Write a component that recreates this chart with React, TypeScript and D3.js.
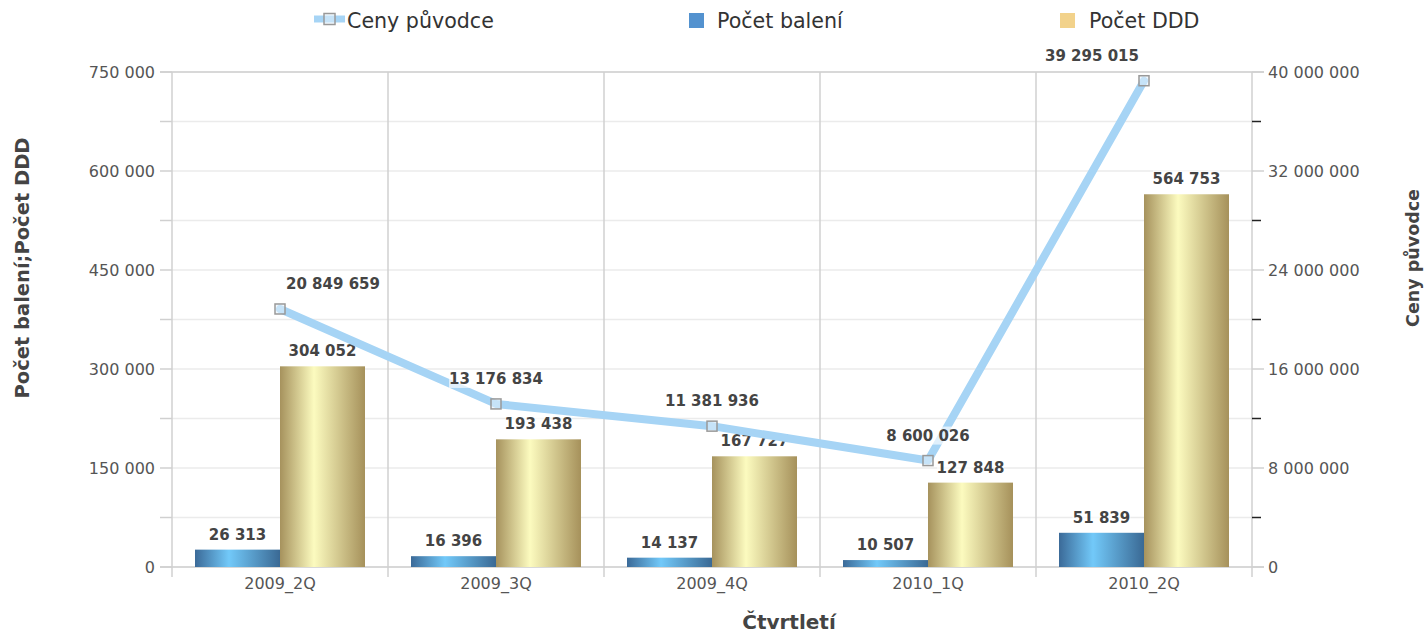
import React from "react";
import * as d3 from "d3";

const categories = ["2009_2Q", "2009_3Q", "2009_4Q", "2010_1Q", "2010_2Q"];
const pocetBaleni = [26313, 16396, 14137, 10507, 51839];
const pocetDDD = [304052, 193438, 167727, 127848, 564753];
const cenyPuvodce = [20849659, 13176834, 11381936, 8600026, 39295015];
const lineLabelShift = [53, 0, 0, 0, -52];
const leftTicks = d3.range(0, 750001, 75000);
const rightTicks = d3.range(0, 40000001, 4000000);

const W = 1428, H = 636;
const L = 172, R = 1252, T = 72, B = 567;
const FONT = "'DejaVu Sans', Verdana, sans-serif";

const loc = d3.formatLocale({ thousands: "\u00a0", grouping: [3], decimal: ",", currency: ["", ""] });
const fmt = loc.format(",d");

export default function App() {
  const x = d3.scaleBand<string>().domain(categories).range([L, R]);
  const inner = d3.scaleBand<string>().domain(["b", "d"]).range([23, 193]);
  const yL = d3.scaleLinear().domain([0, 750000]).range([B, T]);
  const yR = d3.scaleLinear().domain([0, 40000000]).range([B, T]);
  const bw = inner.bandwidth();

  const lineGen = d3
    .line<number>()
    .x((_, i) => x(categories[i])! + x.bandwidth() / 2)
    .y((v) => yR(v));

  const labelBox = (cx: number, by: number, text: string, key: string, size = 15) => {
    const w = text.length * size * 0.6;
    return (
      <g key={key}>
        <rect x={cx - w / 2 - 2} y={by - size + 1} width={w + 4} height={size + 3} fill="#fff" opacity={0.65} />
        <text x={cx} y={by} textAnchor="middle" fontFamily={FONT} fontWeight="bold" fontSize={size} fill="#444">
          {text}
        </text>
      </g>
    );
  };

  return (
    <svg width={W} height={H} style={{ position: "absolute", left: 0, top: 0, background: "#fff" }}>
      <defs>
        <linearGradient id="gBlue" x1="0" x2="1" y1="0" y2="0">
          <stop offset="0" stopColor="#3b6a98" />
          <stop offset="0.4" stopColor="#72c9f9" />
          <stop offset="1" stopColor="#3a6994" />
        </linearGradient>
        <linearGradient id="gGold" x1="0" x2="1" y1="0" y2="0">
          <stop offset="0" stopColor="#a6925d" />
          <stop offset="0.4" stopColor="#fcfbbf" />
          <stop offset="1" stopColor="#a6915b" />
        </linearGradient>
      </defs>

      {/* horizontal gridlines */}
      {leftTicks.map((t) => (
        <line key={"hg" + t} x1={L} x2={R} y1={yL(t)} y2={yL(t)} stroke="#ebebeb" strokeWidth={1.5} />
      ))}
      {/* vertical gridlines */}
      {d3.range(categories.length + 1).map((i) => {
        const xx = i < categories.length ? x(categories[i])! : R;
        return <line key={"vg" + i} x1={xx} x2={xx} y1={T} y2={B + 10} stroke="#d0d0d0" strokeWidth={1.5} />;
      })}
      {/* left axis ticks */}
      {leftTicks.map((t) => (
        <line key={"lt" + t} x1={L - 12} x2={L} y1={yL(t)} y2={yL(t)} stroke="#d0d0d0" strokeWidth={1.5} />
      ))}
      {leftTicks
        .filter((t) => t % 150000 === 0)
        .map((t) => (
          <text key={"ll" + t} x={L - 17} y={yL(t) + 5.5} textAnchor="end" fontFamily={FONT} fontSize={16} fill="#555">
            {fmt(t)}
          </text>
        ))}
      {/* right axis */}
      {rightTicks.map((t) =>
        t % 8000000 === 0 ? (
          <line key={"rt" + t} x1={R} x2={R + 12} y1={yR(t)} y2={yR(t)} stroke="#d0d0d0" strokeWidth={1.5} />
        ) : (
          <line key={"rt" + t} x1={R} x2={R + 9} y1={yR(t)} y2={yR(t)} stroke="#222" strokeWidth={1.5} />
        )
      )}
      {rightTicks
        .filter((t) => t % 8000000 === 0)
        .map((t) => (
          <text key={"rl" + t} x={R + 16} y={yR(t) + 5.5} textAnchor="start" fontFamily={FONT} fontSize={16} fill="#555">
            {fmt(t)}
          </text>
        ))}
      <line x1={L - 12} x2={R + 12} y1={T} y2={T} stroke="#d0d0d0" strokeWidth={1.5} />
      <line x1={L - 12} x2={R + 12} y1={B} y2={B} stroke="#d0d0d0" strokeWidth={1.5} />

      {/* bars */}
      {categories.map((c, i) => (
        <g key={"bar" + c}>
          <rect x={x(c)! + inner("b")!} y={yL(pocetBaleni[i])} width={bw} height={B - yL(pocetBaleni[i])} fill="url(#gBlue)" />
          <rect x={x(c)! + inner("d")!} y={yL(pocetDDD[i])} width={bw} height={B - yL(pocetDDD[i])} fill="url(#gGold)" />
        </g>
      ))}
      {/* x labels */}
      {categories.map((c) => (
        <text key={"xl" + c} x={x(c)! + x.bandwidth() / 2} y={589} textAnchor="middle" fontFamily={FONT} fontSize={16} fill="#555">
          {c}
        </text>
      ))}
      {/* bar labels */}
      {categories.map((c, i) => (
        <g key={"bl" + c}>
          {labelBox(x(c)! + inner("b")! + bw / 2, yL(pocetBaleni[i]) - 10, fmt(pocetBaleni[i]), "b" + i)}
          {labelBox(x(c)! + inner("d")! + bw / 2, yL(pocetDDD[i]) - 10, fmt(pocetDDD[i]), "d" + i)}
        </g>
      ))}

      {/* line */}
      <path d={lineGen(cenyPuvodce)!} fill="none" stroke="#a6d4f5" strokeWidth={8} strokeLinejoin="round" strokeLinecap="round" />
      {cenyPuvodce.map((v, i) => (
        <rect
          key={"m" + i}
          x={x(categories[i])! + x.bandwidth() / 2 - 5}
          y={yR(v) - 5}
          width={10}
          height={10}
          fill="#e6f2fb"
          fillOpacity={0.5}
          stroke="#999"
          strokeWidth={1.5}
        />
      ))}
      {cenyPuvodce.map((v, i) =>
        labelBox(x(categories[i])! + x.bandwidth() / 2 + lineLabelShift[i], yR(v) - 20, fmt(v), "ll" + i)
      )}

      {/* legend */}
      <line x1={314} x2={345} y1={19} y2={19} stroke="#a6d4f5" strokeWidth={7} />
      <rect x={324} y={13.5} width={11} height={11} fill="#e6f2fb" fillOpacity={0.5} stroke="#999" strokeWidth={1.5} />
      <text x={347} y={28} fontFamily={FONT} fontSize={20.6} fill="#333">Ceny původce</text>
      <rect x={689} y={13} width={15} height={15} fill="#5392cf" />
      <text x={717} y={28} fontFamily={FONT} fontSize={20.6} fill="#333">Počet balení</text>
      <rect x={1060} y={13} width={15} height={15} fill="#f2d28b" />
      <text x={1089} y={28} fontFamily={FONT} fontSize={20.6} fill="#333">Počet DDD</text>

      {/* axis titles */}
      <text x={789} y={629} textAnchor="middle" fontFamily={FONT} fontWeight="bold" fontSize={20} fill="#444">Čtvrtletí</text>
      <text transform={`translate(29,268) rotate(-90)`} textAnchor="middle" fontFamily={FONT} fontWeight="bold" fontSize={19.5} fill="#444">
        Počet balení;Počet DDD
      </text>
      <text transform={`translate(1419,258) rotate(-90)`} textAnchor="middle" fontFamily={FONT} fontWeight="bold" fontSize={17.5} fill="#444">
        Ceny původce
      </text>
    </svg>
  );
}
